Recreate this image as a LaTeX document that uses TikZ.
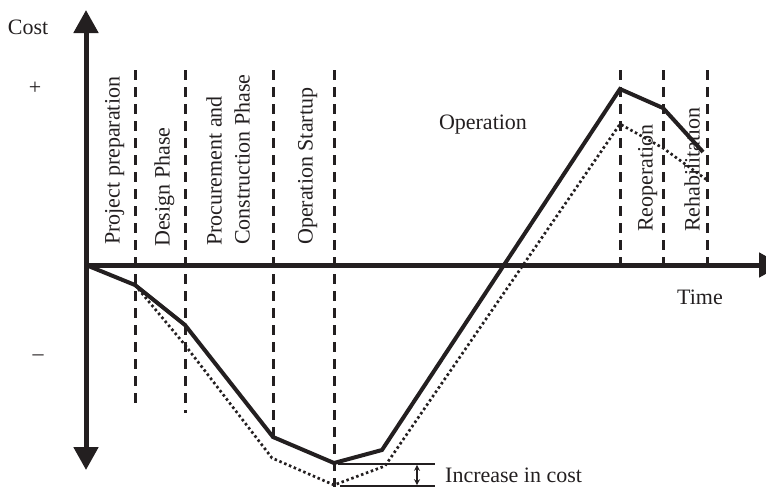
\documentclass[tikz,border=0pt]{standalone}
\usepackage{fontspec}
\setmainfont{Liberation Serif}
\usetikzlibrary{arrows.meta}
\definecolor{ink}{HTML}{231F20}
\begin{document}
\begin{tikzpicture}[x=1pt,y=-1pt,
  lbl/.style={inner sep=0pt,text=ink,font=\fontsize{22}{26}\selectfont},
  phaselbl/.style={lbl,rotate=90,anchor=base west},
  axis/.style={draw=ink,line width=5pt,-{Triangle[length=23pt,width=24pt]}},
  phaseline/.style={draw=ink,line width=3pt,dash pattern=on 10pt off 7pt},
  costline/.style={draw=ink,line width=4pt,line join=miter},
  altline/.style={draw=ink,line width=2.7pt,dash pattern=on 2.5pt off 2.7pt},
  thin/.style={draw=ink,line width=1.5pt}]
\clip (0,0) rectangle (766,488);
\useasboundingbox (0,0) rectangle (766,488);

% axes
\coordinate (o) at (86,265);
\coordinate (ytop) at (86,10);
\coordinate (ybot) at (86,470);
\coordinate (xend) at (782,265);
\draw[axis] (o) -- (ytop);
\draw[axis] (o) -- (ybot);
\draw[axis] (o) -- (xend);

% phase boundaries
\foreach \n/\x/\yb in {a/135/410, b/185/413, c/273/440, d/334/487, e/620/265, f/663/265, g/707/265}{
  \coordinate (\n top) at (\x,70);
  \coordinate (\n bot) at (\x,\yb);
  \draw[phaseline] (\n top) -- (\n bot);
}

% cost curve, planned
\coordinate (s1) at (135,285);
\coordinate (s2) at (185,325);
\coordinate (s3) at (273,437);
\coordinate (s4) at (334,463);
\coordinate (s5) at (382,450);
\coordinate (s6) at (620,89);
\coordinate (s7) at (663,108);
\coordinate (s8) at (703,152);
\draw[costline] (o) -- (s1) -- (s2) -- (s3) -- (s4) -- (s5) -- (s6) -- (s7) -- (s8);

% cost curve, increased
\coordinate (d2) at (185,345);
\coordinate (d3) at (272,458);
\coordinate (d4) at (334,485);
\coordinate (d5) at (385,466);
\coordinate (d6) at (620,124);
\coordinate (d7) at (663,148);
\coordinate (d8) at (707,180);
\draw[altline] (s1) -- (d2) -- (d3) -- (d4) -- (d5) -- (d6) -- (d7) -- (d8);

% increase marker
\coordinate (m1) at (338,464);
\coordinate (m2) at (435,464);
\coordinate (m3) at (340,486);
\coordinate (m4) at (435,486);
\draw[thin] (m1) -- (m2);
\draw[thin] (m3) -- (m4);
\coordinate (ma) at (417,464.8);
\coordinate (mb) at (417,485.2);
\draw[thin,{Stealth[length=6pt,width=6pt]}-{Stealth[length=6pt,width=6pt]}] (ma) -- (mb);
\node[lbl,anchor=base west] (inc) at (445,482) {Increase in cost};

% axis labels
\node[lbl] (cost) at (28,27) {Cost};
\node[lbl] (plus) at (35,88) {+};
\node[lbl] (minus) at (38,358) {--};
\node[lbl] (time) at (700,297) {Time};
\node[lbl] (oper) at (483,125) {Operation};

% phase labels
\node[phaselbl] (pp) at (119.5,245) {Project preparation};
\node[phaselbl] (dp) at (169.5,247) {Design Phase};
\node[phaselbl] (pc1) at (221.5,246) {Procurement and};
\node[phaselbl] (pc2) at (249.5,245) {Construction Phase};
\node[phaselbl] (os) at (312.5,245) {Operation Startup};
\node[phaselbl] (ro) at (652.5,232) {Reoperation};
\node[phaselbl] (rh) at (699.5,232) {Rehabilitation};
\end{tikzpicture}
\end{document}
